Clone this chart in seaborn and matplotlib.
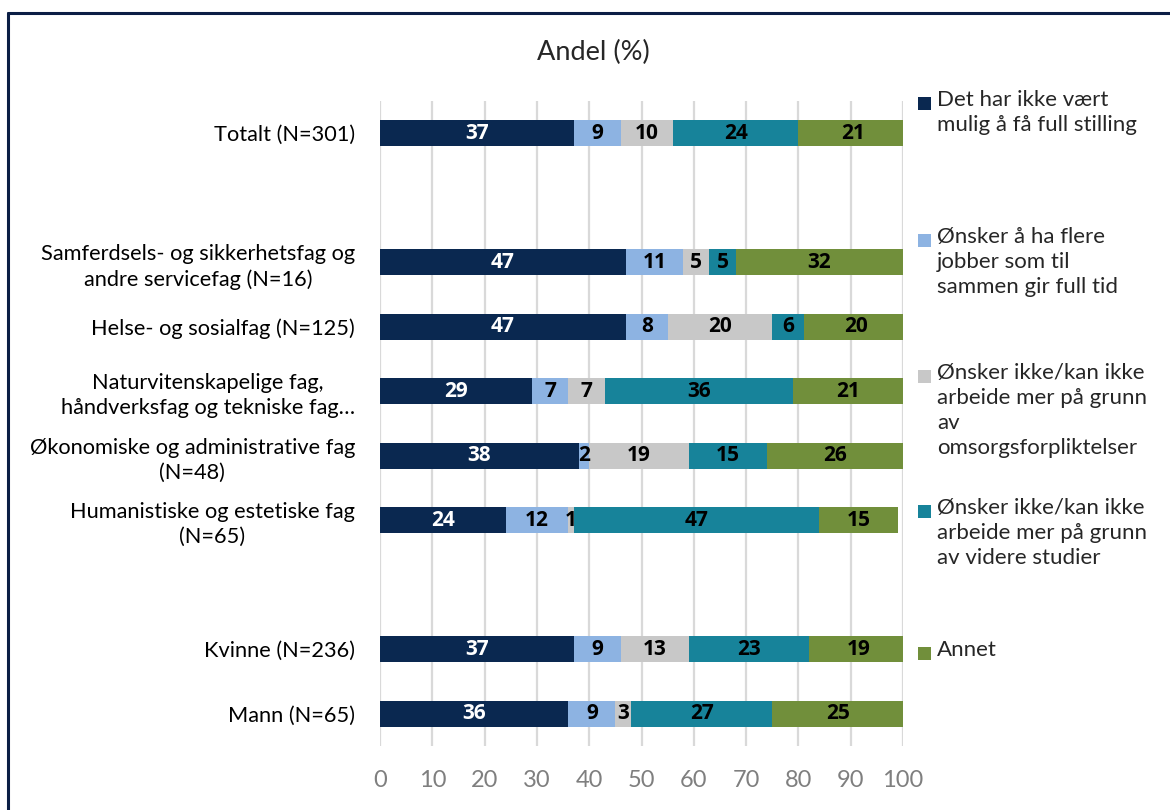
import matplotlib
matplotlib.use("Agg")
import matplotlib.pyplot as plt
from matplotlib.lines import Line2D
from matplotlib.patches import Rectangle
import seaborn as sns
import numpy as np
import pandas as pd

# data
groups = ["Totalt (N=301)",
          " ",
          "Samferdsels- og sikkerhetsfag og\nandre servicefag (N=16)",
          "Helse- og sosialfag (N=125)",
          "Naturvitenskapelige fag,\nhåndverksfag og tekniske fag…",
          "Økonomiske og administrative fag\n(N=48)",
          "Humanistiske og estetiske fag\n(N=65)",
          "  ",
          "Kvinne (N=236)",
          "Mann (N=65)"]
data_groups = [groups[0], groups[2], groups[3], groups[4], groups[5], groups[6], groups[8], groups[9]]

ikke_mulig = [37, 47, 47, 29, 38, 24, 37, 36]
flere_jobber = [9, 11, 8, 7, 2, 12, 9, 9]
omsorg = [10, 5, 20, 7, 19, 1, 13, 3]
studier = [24, 5, 6, 36, 15, 47, 23, 27]
annet = [21, 32, 20, 21, 26, 15, 19, 25]

series_names = ["Det har ikke vært\nmulig å få full stilling",
                "Ønsker å ha flere\njobber som til\nsammen gir full tid",
                "Ønsker ikke/kan ikke\narbeide mer på grunn\nav\nomsorgsforpliktelser",
                "Ønsker ikke/kan ikke\narbeide mer på grunn\nav videre studier",
                "Annet"]
colors = ["#0a2850", "#8db3e2", "#c8c8c8", "#17839a", "#718f3b"]
series = [ikke_mulig, flere_jobber, omsorg, studier, annet]

sns.set_theme(style="white")
plt.rcParams['font.family'] = ['Lato', 'DejaVu Sans']

fig = plt.figure(figsize=(11.7, 8.1), dpi=100, facecolor='white')
ax = fig.add_axes([380/1170, 1 - 746/810, (903 - 380)/1170, (746 - 101)/810])

vals = np.array(series, dtype=float)        # shape (5, 8)
cum = np.cumsum(vals, axis=0)

# stacked bars: draw cumulative totals from the largest down
for k in range(len(series) - 1, -1, -1):
    df = pd.DataFrame({"group": data_groups, "value": cum[k]})
    sns.barplot(data=df, x="value", y="group", order=groups, orient="h",
                color=colors[k], saturation=1, width=0.4, ax=ax,
                errorbar=None, edgecolor='none')

# value labels
pos = {g: i for i, g in enumerate(groups)}
for k in range(len(series)):
    for j, g in enumerate(data_groups):
        v = vals[k, j]
        left = cum[k, j] - v
        ax.text(left + v / 2, pos[g], f"{int(v)}", ha='center', va='center',
                fontsize=15, fontweight='bold', family=['Open Sans', 'DejaVu Sans'],
                color='white' if k == 0 else 'black')

ax.set_xlim(0, 100)
ax.set_ylim(len(groups) - 0.5, -0.5)
ax.set_xticks(range(0, 101, 10))
ax.set_yticks(range(len(groups)))
ax.set_yticklabels(groups)
for t in ax.get_yticklabels():
    t.set_multialignment('center')
    t.set_linespacing(1.3)
ax.set_xlabel("")
ax.set_ylabel("")
ax.tick_params(axis='x', labelsize=17, labelcolor='#7f7f7f', length=0, pad=17)
ax.tick_params(axis='y', labelsize=15.7, labelcolor='black', length=0, pad=18)
ax.grid(axis='x', color='#d9d9d9', linewidth=1.6)
ax.set_axisbelow(True)
for s in ax.spines.values():
    s.set_visible(False)

fig.text(593/1170, 1 - 52/810, "Andel (%)", ha='center', va='center', fontsize=19.5)

# legend, placed like the original
leg_y = [103, 240, 376, 511, 653]
for name, c, y in zip(series_names, colors, leg_y):
    fig.add_artist(Rectangle((918/1170, 1 - (y + 7)/810), 13/1170, 13/810,
                             transform=fig.transFigure, facecolor=c, edgecolor='none'))
    fig.text(937/1170, 1 - (y - 13)/810, name, ha='left', va='top', fontsize=16,
             linespacing=1.32)

# frame of the original chart
fig.add_artist(Line2D([8/1170, 8/1170], [0, 1 - 13/810], transform=fig.transFigure,
                      color='#0b1e45', linewidth=2.2))
fig.add_artist(Line2D([8/1170, 1], [1 - 13/810, 1 - 13/810], transform=fig.transFigure,
                      color='#0b1e45', linewidth=2.2))

plt.savefig("out.png", dpi=100)
plt.close()
